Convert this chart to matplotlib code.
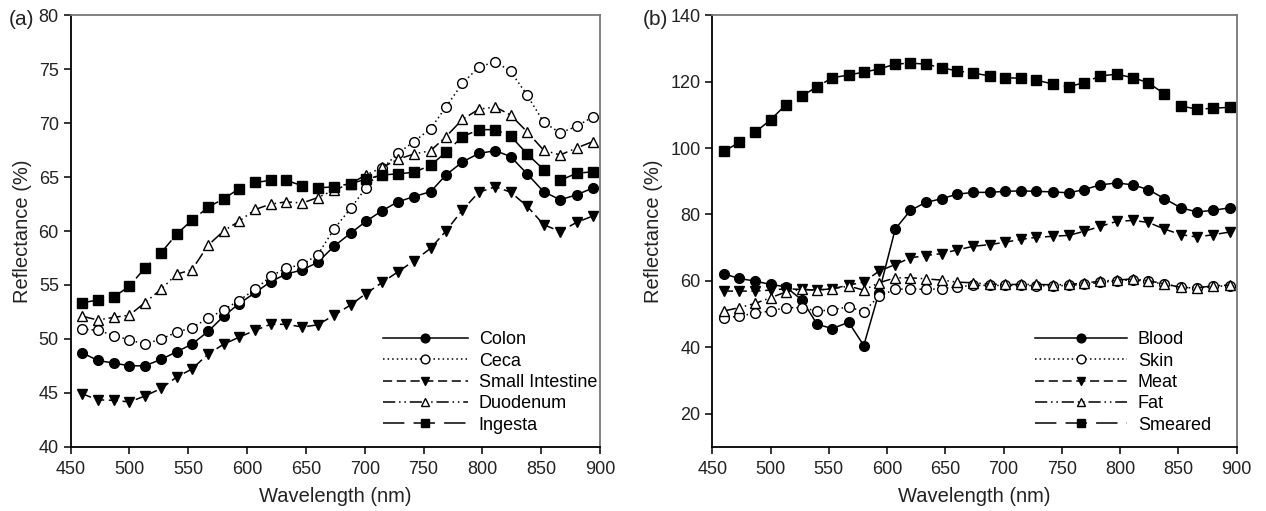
import matplotlib
matplotlib.use("Agg")
import matplotlib.pyplot as plt

plt.rcParams['font.family'] = ['Liberation Sans', 'DejaVu Sans']

# wavelengths (nm) of the measured bands
wavelength = [460, 473, 487, 500, 513, 527, 540, 553, 567, 580, 593, 607, 620, 633, 647,
              660, 674, 688, 701, 715, 728, 742, 756, 769, 783, 797, 811, 824, 838, 852,
              866, 880, 894]

# panel (a)
colon = [48.7, 48.0, 47.75, 47.5, 47.5, 48.1, 48.8, 49.5, 50.7, 52.1, 53.25, 54.3, 55.3, 56.0, 56.4,
         57.1, 58.6, 59.8, 60.9, 61.9, 62.7, 63.2, 63.65, 65.2, 66.4, 67.2, 67.45, 66.9, 65.3, 63.65,
         62.9, 63.35, 64.0]
ceca = [50.9, 50.8, 50.3, 49.9, 49.5, 50.0, 50.6, 51.05, 51.9, 52.7, 53.55, 54.6, 55.8, 56.55, 56.9,
        57.8, 60.2, 62.1, 64.0, 65.8, 67.2, 68.3, 69.5, 71.5, 73.7, 75.2, 75.7, 74.8, 72.6, 70.1,
        69.1, 69.7, 70.6]
small_intestine = [44.9, 44.35, 44.3, 44.15, 44.7, 45.4, 46.45, 47.2, 48.6, 49.5, 50.15, 50.8, 51.35, 51.35, 51.1,
                   51.3, 52.2, 53.15, 54.2, 55.25, 56.2, 57.25, 58.4, 60.0, 61.95, 63.6, 64.1, 63.6, 62.3, 60.6,
                   59.95, 60.8, 61.4]
duodenum = [52.1, 51.75, 52.0, 52.2, 53.35, 54.6, 56.0, 56.4, 58.7, 60.0, 60.9, 62.0, 62.5, 62.7, 62.6,
            63.1, 63.8, 64.4, 65.2, 65.9, 66.65, 67.15, 67.45, 68.75, 70.35, 71.3, 71.5, 70.75, 69.2, 67.5,
            67.05, 67.7, 68.3]
ingesta = [53.35, 53.6, 53.9, 54.9, 56.55, 58.0, 59.7, 61.0, 62.2, 63.0, 63.9, 64.5, 64.7, 64.7, 64.2,
           64.0, 64.1, 64.4, 64.8, 65.2, 65.3, 65.45, 66.1, 67.3, 68.75, 69.4, 69.4, 68.8, 67.15, 65.7,
           64.7, 65.35, 65.5]

# panel (b)
blood = [62.1, 60.7, 59.9, 58.9, 58.2, 54.2, 46.9, 45.6, 47.5, 40.5, 56.4, 75.6, 81.2, 83.6, 84.75,
         86.1, 86.65, 86.65, 86.95, 87.1, 86.95, 86.8, 86.5, 87.5, 88.9, 89.5, 88.9, 87.5, 84.75, 82.0,
         80.75, 81.25, 82.0]
skin = [48.7, 49.4, 50.2, 50.9, 51.9, 51.9, 50.9, 51.2, 52.2, 50.6, 55.4, 57.4, 57.6, 57.4, 57.6,
        58.2, 58.6, 58.6, 58.6, 58.6, 58.5, 58.5, 58.6, 58.9, 59.5, 60.0, 60.3, 59.8, 59.0, 58.0,
        57.8, 58.3, 58.5]
meat = [56.9, 56.9, 56.9, 57.2, 57.6, 57.4, 57.2, 57.6, 58.7, 59.6, 62.9, 64.9, 66.9, 67.6, 68.2,
        69.3, 70.4, 70.9, 71.6, 72.5, 73.1, 73.4, 73.7, 74.9, 76.4, 77.9, 78.2, 77.6, 75.6, 73.9,
        73.2, 73.9, 74.7]
fat = [50.9, 51.9, 53.2, 54.9, 56.6, 57.4, 57.2, 57.6, 58.4, 57.2, 59.4, 60.9, 60.9, 60.6, 60.2,
       59.6, 59.4, 59.0, 58.9, 58.9, 58.9, 58.8, 58.9, 59.3, 59.9, 60.2, 60.6, 60.0, 59.1, 58.0,
       57.9, 58.5, 58.7]
smeared = [99.0, 101.7, 104.8, 108.5, 113.0, 115.7, 118.5, 121.2, 122.0, 122.9, 123.8, 125.3, 125.6, 125.3, 124.2,
           123.25, 122.6, 121.75, 121.2, 121.05, 120.5, 119.3, 118.5, 119.7, 121.75, 122.25, 121.2, 119.7, 116.3, 112.7,
           111.7, 112.0, 112.3]

names_a = ["Colon", "Ceca", "Small Intestine", "Duodenum", "Ingesta"]
names_b = ["Blood", "Skin", "Meat", "Fat", "Smeared"]

styles = [
    dict(ls='-', marker='o', mfc='black'),
    dict(ls=(0, (1, 2)), marker='o', mfc='white'),
    dict(ls=(0, (6, 3)), marker='v', mfc='black'),
    dict(ls=(0, (8, 2.5, 1, 2.5, 1, 2.5)), marker='^', mfc='white'),
    dict(ls=(0, (14, 6)), marker='s', mfc='black'),
]

FS = 13
FS_LAB = 14.5
TXT = '#222222'

fig = plt.figure(figsize=(12.66, 5.11), dpi=100)
ax_a = fig.add_axes([0.0558, 0.1258, 0.4182, 0.8442])
ax_b = fig.add_axes([0.5626, 0.1258, 0.4143, 0.8442])


def style_axes(ax):
    for side in ['left', 'bottom']:
        ax.spines[side].set_color('black')
        ax.spines[side].set_linewidth(1.3)
    for side in ['top', 'right']:
        ax.spines[side].set_color('#777777')
        ax.spines[side].set_linewidth(1.3)
    ax.tick_params(direction='out', length=5, width=1.1, labelsize=FS, color='black',
                   top=False, right=False, labelcolor=TXT)
    ax.tick_params(axis='x', pad=5)
    ax.set_xlim(450, 900)
    ax.set_xticks(range(450, 901, 50))
    ax.set_xlabel("Wavelength (nm)", fontsize=FS_LAB, color=TXT, labelpad=7)
    ax.set_ylabel("Reflectance (%)", fontsize=FS_LAB, color=TXT, labelpad=5)


def draw(ax, series, names):
    handles = []
    for vals, name, st in zip(series, names, styles):
        h, = ax.plot(wavelength, vals, color='black', lw=1.1, linestyle=st['ls'],
                     marker=st['marker'], markersize=7, markerfacecolor=st['mfc'],
                     markeredgecolor='black', markeredgewidth=1.0, label=name)
        handles.append(h)
    return handles


h_a = draw(ax_a, [colon, ceca, small_intestine, duodenum, ingesta], names_a)
style_axes(ax_a)
ax_a.set_ylim(40, 80)
ax_a.set_yticks(range(40, 81, 5))
ax_a.legend(handles=h_a, loc='lower left', bbox_to_anchor=(0.59, 0.03), frameon=False,
            fontsize=FS, handlelength=4.7, handletextpad=0.6, labelspacing=0.24,
            borderpad=0, borderaxespad=0, markerscale=0.9)

h_b = draw(ax_b, [blood, skin, meat, fat, smeared], names_b)
style_axes(ax_b)
ax_b.set_ylim(10, 140)
ax_b.set_yticks(range(20, 141, 20))
ax_b.legend(handles=h_b, loc='lower left', bbox_to_anchor=(0.615, 0.03), frameon=False,
            fontsize=FS, handlelength=5.1, handletextpad=0.6, labelspacing=0.24,
            borderpad=0, borderaxespad=0, markerscale=0.9)

fig.text(0.027, 0.962, "(a)", fontsize=15, color=TXT, ha='right', va='center')
fig.text(0.528, 0.962, "(b)", fontsize=15, color=TXT, ha='right', va='center')

fig.savefig("out.png", dpi=100)
